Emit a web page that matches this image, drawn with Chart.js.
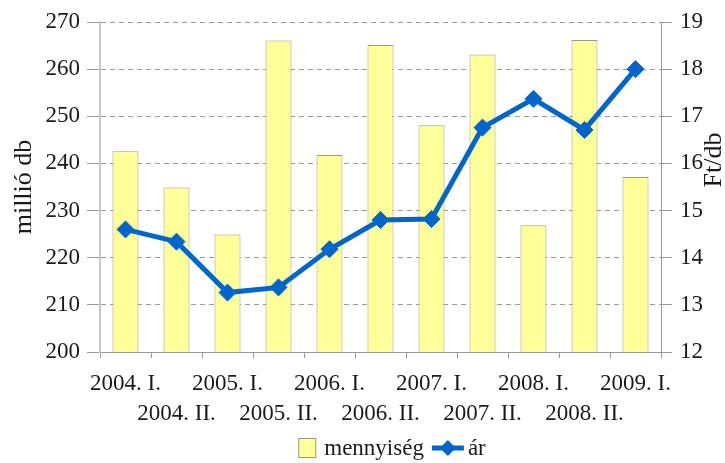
<!DOCTYPE html>
<html>
<head>
<meta charset="utf-8">
<script src="https://cdn.jsdelivr.net/npm/chart.js@4"></script>
<style>
  html,body{margin:0;padding:0;background:#fff}
  #wrap{width:725px;height:463px}
</style>
</head>
<body>
<div id="wrap"><canvas id="c" width="725" height="463"></canvas></div>
<script>
const labels = ['2004. I.','2004. II.','2005. I.','2005. II.','2006. I.','2006. II.','2007. I.','2007. II.','2008. I.','2008. II.','2009. I.']
const mennyiseg = [242.6, 234.9, 224.9, 266.1, 241.8, 265.1, 248.1, 263.1, 226.9, 266.2, 237.1]
const ar = [14.60, 14.34, 13.26, 13.37, 14.18, 14.80, 14.82, 16.76, 17.37, 16.71, 18.00]

const FONT = 'Liberation Serif'
const TXT = '#1a1a1a'
const BLUE = '#0066cc'
const YELLOW = '#ffff99'

// legend + right axis title, drawn by hand (Excel-like look)
const extras = {
  id: 'extras',
  afterDraw(chart){
    const ctx = chart.ctx
    ctx.save()
    ctx.fillStyle = TXT
    ctx.font = `23px "${FONT}"`
    ctx.textBaseline = 'middle'
    // right axis title, reads bottom to top
    ctx.save()
    ctx.translate(714, 160)
    ctx.rotate(-Math.PI/2)
    ctx.textAlign = 'center'
    ctx.font = `26px "${FONT}"`
    ctx.fillText('Ft/db', 0, 0)
    ctx.restore()
    // legend
    const y = 448
    const t1 = 'mennyiség', t2 = 'ár'
    const w1 = ctx.measureText(t1).width, w2 = ctx.measureText(t2).width
    const total = 18 + 8 + w1 + 8 + 32 + 4 + w2
    let x = 392 - total/2
    ctx.fillStyle = YELLOW
    ctx.strokeStyle = '#9a9a86'
    ctx.lineWidth = 1
    ctx.fillRect(x, y-10, 18, 20)
    ctx.strokeRect(x+0.5, y-9.5, 17, 19)
    x += 26
    ctx.fillStyle = TXT
    ctx.textAlign = 'left'
    ctx.fillText(t1, x, y+1)
    x += w1 + 8
    ctx.strokeStyle = BLUE
    ctx.lineWidth = 5
    ctx.beginPath(); ctx.moveTo(x, y); ctx.lineTo(x+32, y); ctx.stroke()
    ctx.fillStyle = BLUE
    ctx.beginPath()
    ctx.moveTo(x+16, y-8); ctx.lineTo(x+24, y); ctx.lineTo(x+16, y+8); ctx.lineTo(x+8, y)
    ctx.closePath(); ctx.fill()
    x += 36
    ctx.fillStyle = TXT
    ctx.fillText(t2, x, y+1)
    ctx.restore()
  }
}

new Chart(document.getElementById('c'), {
  data: {
    labels,
    datasets: [
      { type: 'line', label: 'ár', data: ar, yAxisID: 'y1', order: 0,
        borderColor: BLUE, borderWidth: 5, tension: 0,
        pointStyle: 'rectRot', pointRadius: 8.5, pointBackgroundColor: BLUE, pointBorderColor: BLUE, pointBorderWidth: 1 },
      { type: 'bar', label: 'mennyiség', data: mennyiseg, yAxisID: 'y', order: 1,
        backgroundColor: YELLOW, borderColor: '#9a9a86', borderWidth: 1,
        barPercentage: 0.51, categoryPercentage: 1 }
    ]
  },
  options: {
    responsive: false,
    animation: false,
    layout: { padding: { top: 22, left: 0, right: 0, bottom: 0 } },
    plugins: { legend: { display: false }, tooltip: { enabled: false } },
    scales: {
      x: {
        afterFit: s => { s.height = 111 },
        grid: { drawOnChartArea: false, offset: true, tickLength: 6, color: '#999' },
        border: { color: '#999', width: 1 },
        ticks: {
          autoSkip: false, maxRotation: 0, minRotation: 0, padding: 11, color: TXT,
          font: { family: FONT, size: 23, lineHeight: 1.3 },
          callback: function(v, i){ const l = this.getLabelForValue(v); return i % 2 === 0 ? [l, ''] : ['', l] }
        }
      },
      y: {
        position: 'left', min: 200, max: 270,
        afterFit: s => { s.width = 100 },
        ticks: { stepSize: 10, padding: 7, color: TXT, font: { family: FONT, size: 23 } },
        grid: { color: '#9a9a9a', tickLength: 13, tickColor: '#999', tickBorderDash: [] },
        border: { color: '#c8c8c8', width: 2, dash: [5, 4] },
        title: { display: true, text: 'millió db', color: TXT, font: { family: FONT, size: 26, lineHeight: 1.2 }, padding: { top: 9, bottom: 0 } }
      },
      y1: {
        position: 'right', min: 12, max: 19,
        afterFit: s => { s.width = 64 },
        ticks: { stepSize: 1, padding: 8, color: TXT, font: { family: FONT, size: 23 } },
        grid: { drawOnChartArea: false, tickLength: 11, color: '#999' },
        border: { color: '#999', width: 1 }
      }
    }
  },
  plugins: [extras]
})
</script>
</body>
</html>
